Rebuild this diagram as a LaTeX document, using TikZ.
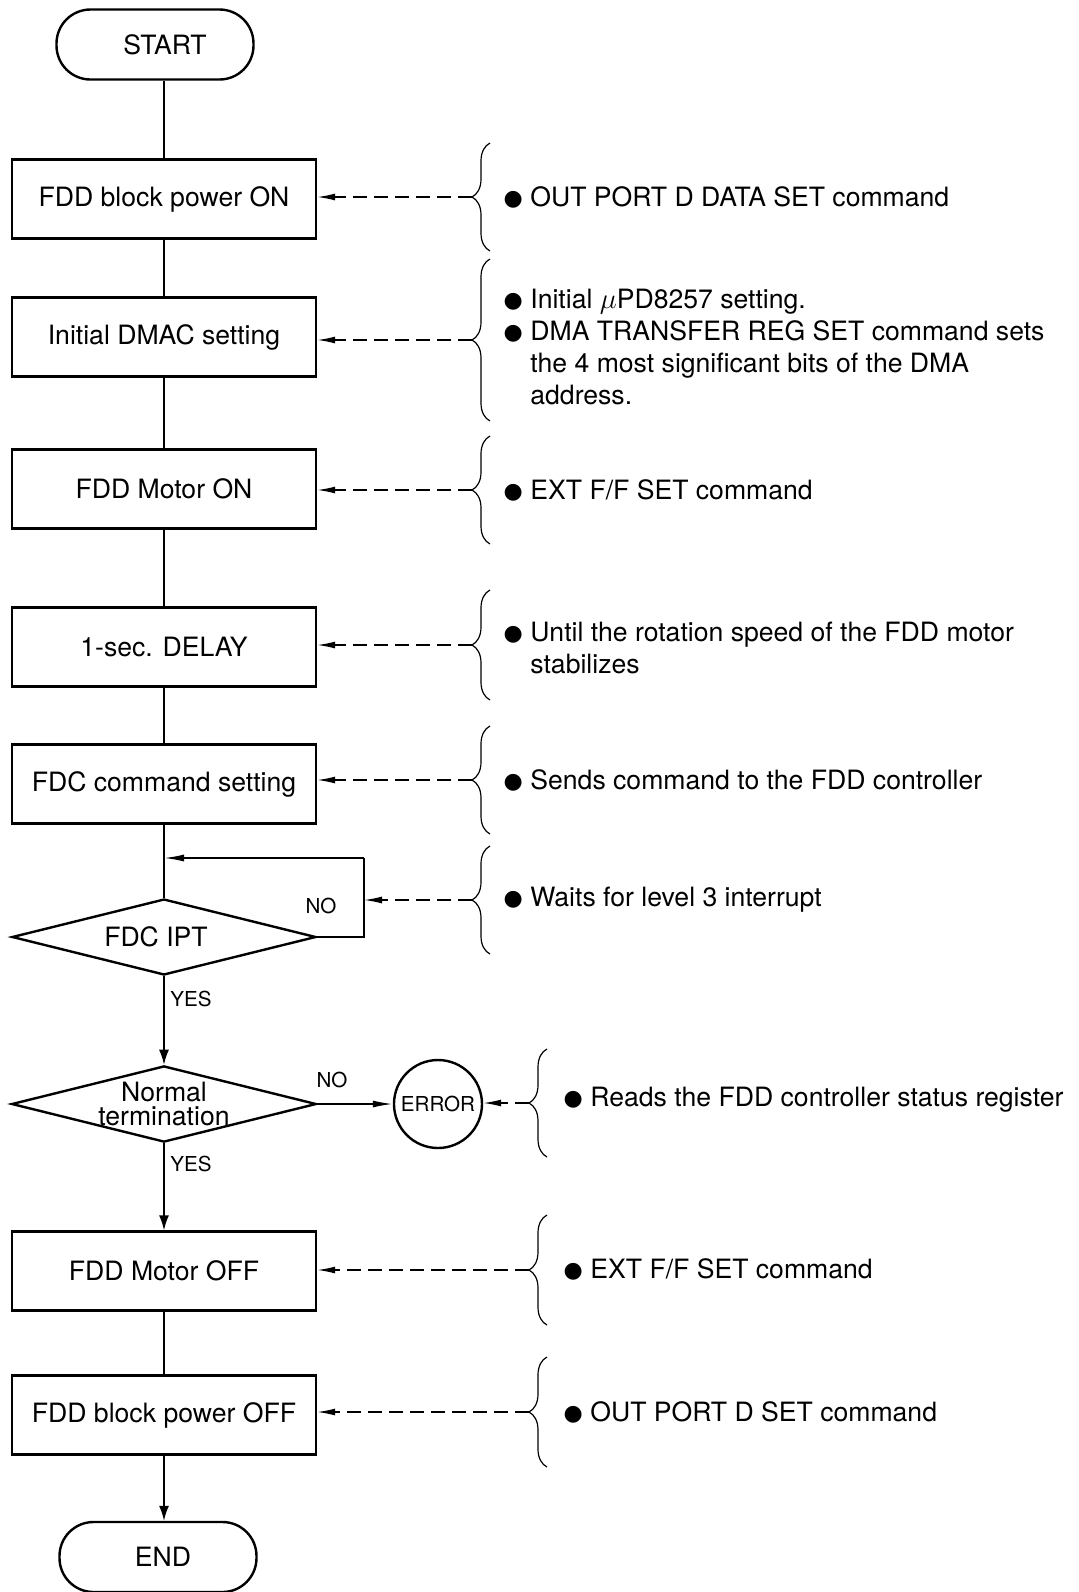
\documentclass[tikz,border=0pt]{standalone}
\usepackage{fontspec}
\setmainfont{TeX Gyre Heros}
\newfontfamily\dejavu{DejaVu Sans}
\usetikzlibrary{shapes.geometric, arrows.meta, positioning, calc, decorations.pathreplacing}

\newcommand{\mainsize}{\fontsize{13.3}{15.9}\selectfont}
\newcommand{\tagsize}{\fontsize{10.3}{12}\selectfont}
\newcommand{\bul}{\makebox[14pt][l]{\hspace*{0.6pt}\raisebox{0.5pt}{\dejavu\fontsize{11}{11}\selectfont ●}}}
\newcommand{\ind}{\hspace*{14pt}}

\tikzset{
    procbox/.style={draw, line width=1.2pt, minimum width=152pt, minimum height=39.5pt, inner sep=0pt, font=\mainsize},
    termbox/.style={draw, line width=1.2pt, rounded corners=17pt, minimum width=98.5pt, minimum height=35pt, inner sep=0pt, font=\mainsize},
    decbox/.style={draw, diamond, aspect=4, line width=1.2pt, minimum width=152pt, minimum height=38pt, inner sep=0pt, align=center, font=\mainsize},
    errbox/.style={draw, circle, line width=1.2pt, minimum size=44pt, inner sep=0pt, font=\tagsize},
    flow/.style={line width=0.8pt},
    downarr/.style={line width=0.8pt, -{Latex[length=7.5pt, width=5pt]}},
    sidearr/.style={line width=0.8pt, -{Latex[length=10pt, width=3.5pt]}},
    hint/.style={line width=0.7pt, dash pattern=on 7pt off 3.5pt, -{Latex[length=9pt, width=3.5pt]}},
    curly/.style={line width=0.6pt, decorate, decoration={brace, amplitude=9pt}},
    note/.style={anchor=west, inner sep=0pt, align=left, font=\mainsize},
    tag/.style={inner sep=0pt, font=\tagsize},
}

\begin{document}
\begin{tikzpicture}[x=0.5pt, y=-0.5pt]
    \useasboundingbox (0,0) rectangle (1079,1592);

    % Main column
    \node[termbox] (start) at (155,44.5) {\hspace*{10pt}START};
    \node[procbox] (pwron) at (164,199) {FDD block power ON};
    \node[procbox] (dmac) at (164,337) {Initial DMAC setting};
    \node[procbox] (motoron) at (164,489) {FDD Motor ON};
    \node[procbox] (delay) at (164,647) {1-sec. DELAY};
    \node[procbox] (fdccmd) at (164,784) {FDC command setting};
    \node[decbox] (ipt) at (164,937) {FDC IPT\hspace*{8pt}};
    \node[decbox, font=\fontsize{13.3}{11.8}\selectfont] (normal) at (164,1104) {Normal\\termination};
    \node[errbox] (err) at (438,1104) {ERROR};
    \node[procbox] (motoroff) at (164,1271) {FDD Motor OFF};
    \node[procbox] (pwroff) at (164,1415) {FDD block power OFF};
    \node[termbox] (stop) at (158,1557) {\hspace*{5pt}END};

    % Flow lines
    \draw[flow] (pwron.north) -- (pwron.north |- start.south);
    \foreach \a/\b in {pwron/dmac, dmac/motoron, motoron/delay, delay/fdccmd, fdccmd/ipt, motoroff/pwroff}
        \draw[flow] (\a) -- (\b);
    \draw[downarr] (ipt) -- (normal);
    \draw[downarr] (normal) -- (motoroff);
    \draw[downarr] (pwroff.south) -- (pwroff.south |- stop.north);
    \draw[sidearr] (normal) -- (err);

    % Wait loop
    \coordinate (loop) at (364,858);
    \draw[flow] (ipt.east) -| (loop);
    \draw[sidearr] (loop) -- (loop -| ipt.north);

    % Branch labels
    \node[tag] (no1) at (321,906) {NO};
    \node[tag, anchor=west] (yes1) at (170,999) {YES};
    \node[tag] (no2) at (332,1080) {NO};
    \node[tag, anchor=west] (yes2) at (170,1164) {YES};

    % Braces: x / tip y / half height
    \foreach \x/\y/\h [count=\i] in {490/197/54, 490/340/81, 490/490/54, 490/645/55, 490/780/54,
                                     490/900/54, 547/1103/54, 547/1270/55, 547/1412/55} {
        \draw[curly] (\x,{\y+\h}) -- (\x,{\y-\h});
        \coordinate (t\i) at ({\x-18},\y);
    }

    % Dashed pointers
    \foreach \i/\tgt in {1/pwron, 2/dmac, 3/motoron, 4/delay, 5/fdccmd, 8/motoroff, 9/pwroff}
        \draw[hint] (t\i) -- (t\i -| \tgt.east);
    \draw[hint] (t6) -- (t6 -| loop);
    \draw[hint] (t7) -- (t7 -| err.east);

    % Notes
    \node[note] (n1) at (502,197) {\bul OUT PORT D DATA SET command};
    \node[note] (n2) at (502,347) {\bul Initial $\mu$PD8257 setting.\\
        \bul DMA TRANSFER REG SET command sets\\
        \ind the 4 most significant bits of the DMA\\
        \ind address.};
    \node[note] (n3) at (502,490) {\bul EXT F/F SET command};
    \node[note] (n4) at (502,648) {\bul Until the rotation speed of the FDD motor\\
        \ind stabilizes};
    \node[note] (n5) at (502,780) {\bul Sends command to the FDD controller};
    \node[note] (n6) at (502,900) {\bul Waits for level 3 interrupt};
    \node[note] (n7) at (562,1100) {\bul Reads the FDD controller status register};
    \node[note] (n8) at (562,1269) {\bul EXT F/F SET command};
    \node[note] (n9) at (562,1412) {\bul OUT PORT D SET command};
\end{tikzpicture}
\end{document}
